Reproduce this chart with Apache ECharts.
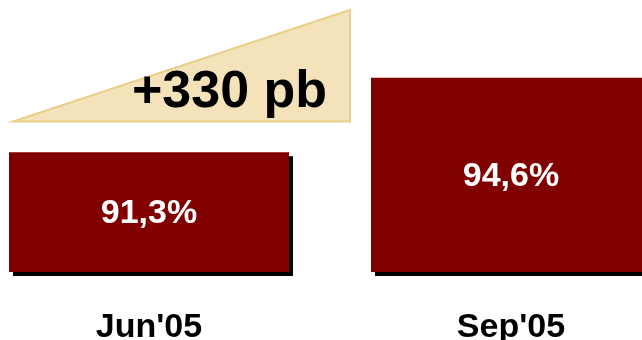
<!DOCTYPE html>
<html><head><meta charset="utf-8">
<script src="https://cdn.jsdelivr.net/npm/echarts@6/dist/echarts.min.js"></script>
<style>html,body{margin:0;padding:0;background:#fff}#c{width:642px;height:340px}</style>
</head><body><div id="c"></div>
<script>
const categories = ["Jun'05", "Sep'05"];
const values = [91.3, 94.6];
const deltaLabel = "+330 pb";

const chart = echarts.init(document.getElementById('c'), null, {renderer: 'canvas'});
chart.setOption({
  animation: false,
  backgroundColor: '#ffffff',
  grid: {left: -32, width: 724, top: 46, bottom: 68, containLabel: false, outerBoundsMode: 'none'},
  xAxis: {
    type: 'category', data: categories,
    axisLine: {show: false}, axisTick: {show: false},
    axisLabel: {fontFamily: 'Liberation Sans, Arial, sans-serif', fontWeight: 'bold', fontSize: 34, color: '#000', margin: 39}
  },
  yAxis: {type: 'value', min: 86, max: 96, show: false, splitLine: {show: false}},
  graphic: [{
    type: 'polygon', z: 0,
    shape: {points: [[13, 121.5], [350, 10], [350, 121.5]]},
    style: {fill: '#F4E3BA', stroke: '#E8CF8A', lineWidth: 2}
  }, {
    type: 'text', z: 10, left: 132, top: 67,
    style: {text: deltaLabel, fontFamily: 'Liberation Sans, Arial, sans-serif', fontWeight: 'bold', fontSize: 52, fill: '#000'}
  }],
  series: [{
    type: 'bar', data: values, barWidth: 280,
    itemStyle: {color: '#800000', shadowColor: '#000', shadowOffsetX: 4, shadowOffsetY: 4, shadowBlur: 0},
    label: {
      show: true, position: 'inside', offset: [0, 2], color: '#fff', fontFamily: 'Liberation Sans, Arial, sans-serif',
      fontWeight: 'bold', fontSize: 34,
      formatter: p => p.value.toFixed(1).replace('.', ',') + '%'
    }
  }]
});
</script></body></html>
